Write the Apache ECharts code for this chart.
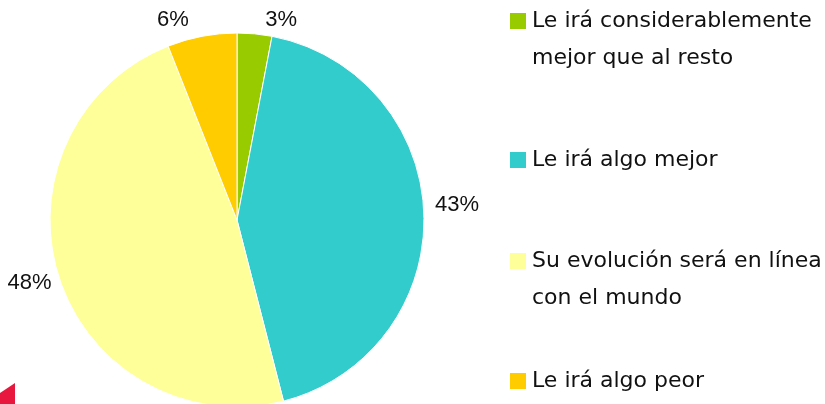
<!DOCTYPE html>
<html>
<head>
<meta charset="utf-8">
<script src="https://cdn.jsdelivr.net/npm/echarts@6/dist/echarts.min.js"></script>
<style>
  html, body { margin: 0; padding: 0; background: #fff; }
  #chart { width: 825px; height: 404px; }
</style>
</head>
<body>
<div id="chart"></div>
<script>
const chart = echarts.init(document.getElementById('chart'))

// categories, in drawing order (clockwise from the top)
var categories = [
    'Le irá considerablemente\nmejor que al resto',
    'Le irá algo mejor',
    'Su evolución será en línea\ncon el mundo',
    'Le irá algo peor'
]
var values = [3, 43, 48, 6]
var colors = ['#99cc00', '#33cccc', '#ffff99', '#ffcc00']

// small label nudges so they sit where the original put them
var labelNudge = [[5, -8], [0, -9], [3, 3], [-7, -10]]

var legendTops = [12, 151, 252, 372]
var lineH = 37

var legends = categories.map(function (name, i) {
    // an empty first line keeps the icon beside the first line of text
    var nLines = name.indexOf('\n') >= 0 ? 3 : 1
    return {
        data: [name],
        formatter: function (n) { return nLines > 1 ? '\n' + n : n },
        orient: 'vertical',
        left: 508,
        top: legendTops[i] + 9 - nLines * lineH / 2,
        padding: 0,
        itemWidth: 18,
        itemHeight: 18,
        selectedMode: false,
        icon: 'rect',
        textStyle: {
            fontFamily: 'DejaVu Sans',
            fontSize: 22,
            color: '#111',
            lineHeight: lineH
        }
    }
})

chart.setOption({
    animation: false,
    color: colors,
    legend: legends,
    graphic: [{
        type: 'polygon',
        shape: { points: [[0, 393], [15, 383], [15, 404], [0, 404]] },
        style: { fill: '#e8173d' }
    }],
    series: [{
        type: 'pie',
        center: [237, 220],
        radius: 187,
        startAngle: 90,
        clockwise: true,
        data: categories.map(function (c, i) {
            return { name: c, value: values[i] }
        }),
        itemStyle: { borderColor: '#fff', borderWidth: 1 },
        label: {
            show: true,
            position: 'outside',
            formatter: '{c}%',
            fontFamily: 'Liberation Sans',
            fontSize: 22,
            color: '#111',
            overflow: 'none',
            distanceToLabelLine: 5
        },
        labelLine: { show: false, length: 6, length2: 0 },
        labelLayout: function (p) {
            return { dx: labelNudge[p.dataIndex][0], dy: labelNudge[p.dataIndex][1] }
        }
    }]
})
</script>
</body>
</html>
